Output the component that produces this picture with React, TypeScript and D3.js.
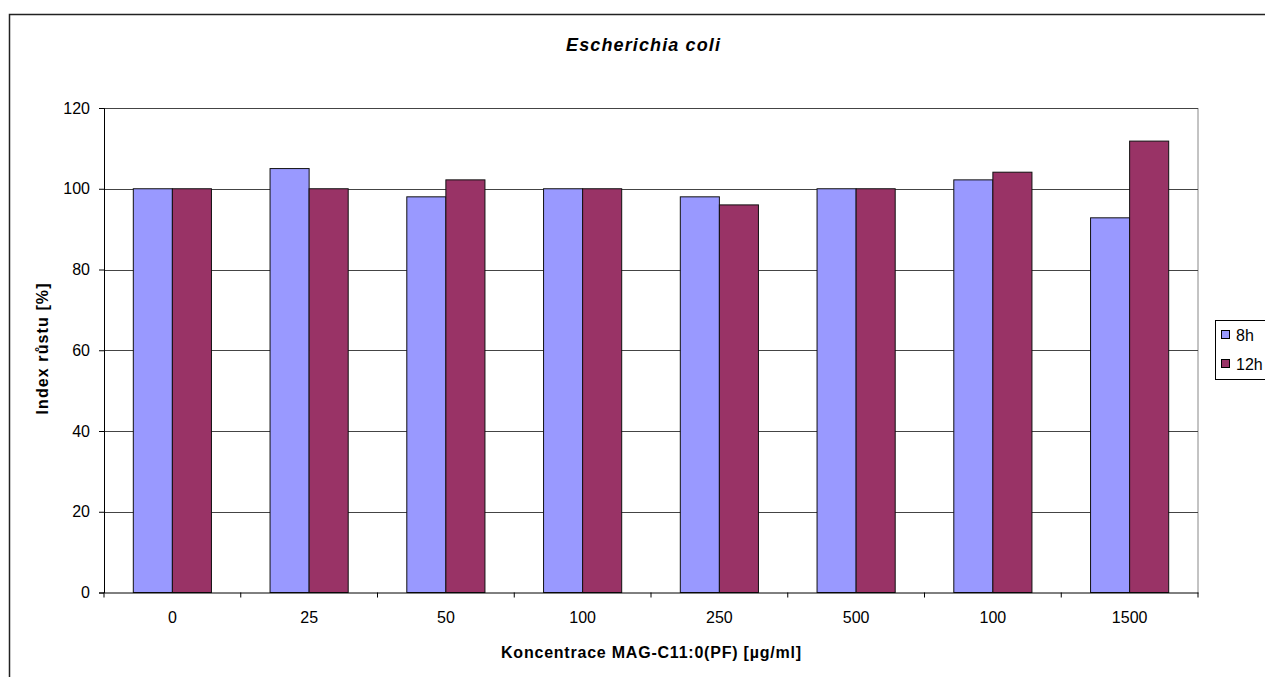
import React, { useEffect, useRef } from 'react';
import * as d3 from 'd3';

const categories = ['0', '25', '50', '100', '250', '500', '100 ', '1500'];
const categoryLabels = ['0', '25', '50', '100', '250', '500', '100', '1500'];
const series8h = [100, 105, 98, 100, 98, 100, 102.2, 92.8];
const series12h = [100, 100, 102.2, 100, 96, 100, 104.1, 111.8];
const seriesNames = ['8h', '12h'];
const seriesColors = ['#9999FF', '#993366'];
const yTicks = [0, 20, 40, 60, 80, 100, 120];

const W = 1265;
const H = 677;

const App: React.FC = () => {
  const svgRef = useRef<SVGSVGElement>(null);

  useEffect(() => {
    if (!svgRef.current) return;
    const svg = d3.select(svgRef.current);
    svg.selectAll('*').remove();

    const font = 'Arial, "Liberation Sans", sans-serif';
    const plot = { left: 104, right: 1198, top: 108, bottom: 592.5 };

    // outer chart border (runs off the right/bottom edges)
    svg.append('rect')
      .attr('x', 9.5).attr('y', 14.5)
      .attr('width', 1400).attr('height', 800)
      .attr('fill', '#fff')
      .attr('stroke', '#222').attr('stroke-width', 1.5);

    const x = d3.scaleBand().domain(categories).range([plot.left, plot.right]).padding(0);
    const y = d3.scaleLinear().domain([0, 120]).range([plot.bottom, plot.top]);
    const barW = x.bandwidth() / 3.5;

    // plot area right border
    svg.append('line')
      .attr('x1', plot.right).attr('x2', plot.right)
      .attr('y1', plot.top).attr('y2', plot.bottom)
      .attr('stroke', '#888').attr('stroke-width', 1);

    // gridlines
    svg.append('g')
      .selectAll('line')
      .data(yTicks.filter(t => t > 0))
      .join('line')
      .attr('x1', plot.left).attr('x2', plot.right)
      .attr('y1', d => Math.round(y(d)) + 0.5).attr('y2', d => Math.round(y(d)) + 0.5)
      .attr('stroke', '#444').attr('stroke-width', 1);

    // bars
    const data = categories.map((c, i) => ({ c, vals: [series8h[i], series12h[i]] }));
    const groups = svg.append('g')
      .selectAll('g')
      .data(data)
      .join('g')
      .attr('transform', d => `translate(${(x(d.c) || 0) + x.bandwidth() / 2 - barW},0)`);
    groups.selectAll('rect')
      .data(d => d.vals)
      .join('rect')
      .attr('x', (_, i) => i * barW)
      .attr('y', d => y(d))
      .attr('width', barW)
      .attr('height', d => plot.bottom - y(d))
      .attr('fill', (_, i) => seriesColors[i])
      .attr('stroke', '#111').attr('stroke-width', 1);

    // y axis
    const yAxis = svg.append('g')
      .attr('transform', `translate(${plot.left},0)`)
      .call(d3.axisLeft(y).tickValues(yTicks).tickSize(5).tickPadding(9));
    yAxis.select('.domain').attr('stroke', '#000');
    yAxis.selectAll('.tick line').attr('stroke', '#000');
    yAxis.selectAll('text')
      .attr('font-family', font).attr('font-size', 16).attr('fill', '#000');

    // x axis
    const xAxis = svg.append('g')
      .attr('transform', `translate(0,${plot.bottom})`)
      .call(d3.axisBottom(x).tickSize(0).tickPadding(19).tickFormat((_, i) => categoryLabels[i]));
    xAxis.select('.domain').attr('stroke', '#000');
    xAxis.selectAll('text')
      .attr('font-family', font).attr('font-size', 16).attr('fill', '#000');
    // tick marks between categories
    svg.append('g')
      .selectAll('line')
      .data(d3.range(categories.length + 1))
      .join('line')
      .attr('x1', i => plot.left + i * x.bandwidth())
      .attr('x2', i => plot.left + i * x.bandwidth())
      .attr('y1', plot.bottom).attr('y2', plot.bottom + 5)
      .attr('stroke', '#000');

    // title
    svg.append('text')
      .attr('x', 643).attr('y', 51)
      .attr('text-anchor', 'middle')
      .attr('font-family', font).attr('font-size', 18)
      .attr('font-weight', 'bold').attr('font-style', 'italic')
      .attr('textLength', 154).attr('lengthAdjust', 'spacing')
      .text('Escherichia coli');

    // axis titles
    svg.append('text')
      .attr('x', 651).attr('y', 658)
      .attr('text-anchor', 'middle')
      .attr('font-family', font).attr('font-size', 16).attr('font-weight', 'bold')
      .attr('textLength', 300).attr('lengthAdjust', 'spacing')
      .text('Koncentrace MAG-C11:0(PF) [µg/ml]');

    svg.append('text')
      .attr('transform', 'translate(48,349) rotate(-90)')
      .attr('text-anchor', 'middle')
      .attr('font-family', font).attr('font-size', 16).attr('font-weight', 'bold')
      .attr('textLength', 131).attr('lengthAdjust', 'spacing')
      .text('Index růstu [%]');

    // legend
    const lg = svg.append('g').attr('transform', 'translate(1215,320)');
    lg.append('rect')
      .attr('x', 0.5).attr('y', 0.5).attr('width', 100).attr('height', 59)
      .attr('fill', '#fff').attr('stroke', '#000');
    seriesNames.forEach((name, i) => {
      const cy = 15 + i * 29;
      lg.append('rect')
        .attr('x', 6.5).attr('y', cy - 4.5).attr('width', 8).attr('height', 8)
        .attr('fill', seriesColors[i]).attr('stroke', '#000');
      lg.append('text')
        .attr('x', 21).attr('y', cy + 6)
        .attr('font-family', font).attr('font-size', 16)
        .text(name);
    });
  }, []);

  return (
    <svg
      ref={svgRef}
      width={W}
      height={H}
      style={{ position: 'absolute', left: 0, top: 0, background: '#fff', overflow: 'hidden' }}
    />
  );
};

export default App;
